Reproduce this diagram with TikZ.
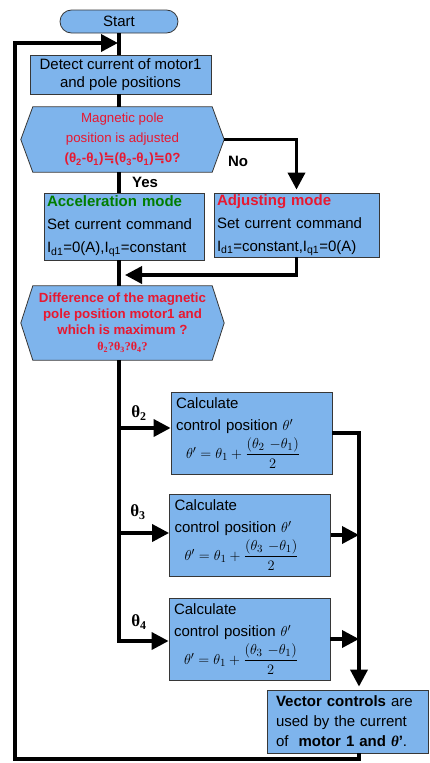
\documentclass[tikz,border=0pt]{standalone}
\usepackage{amsmath}
\usepackage{fontspec}
\setmainfont{Liberation Sans}
\newfontfamily\serifbf{Liberation Serif}
\newfontfamily\symfont{DejaVu Sans}
\usetikzlibrary{arrows.meta,shapes.misc,backgrounds}
\definecolor{boxblue}{RGB}{126,180,236}
\definecolor{boxline}{RGB}{55,55,55}
\definecolor{askred}{RGB}{232,24,48}
\definecolor{modegreen}{RGB}{0,125,0}

\begin{document}
\begin{tikzpicture}[x=1pt,y=1pt,>={Triangle[length=17pt,width=17pt]},line join=miter]

  \tikzstyle{box}=[rectangle,draw=boxline,fill=boxblue,line width=0.8pt,
                   font=\fontsize{15}{18}\selectfont,inner sep=0pt]
  \tikzstyle{start}=[box,rounded rectangle]
  \tikzstyle{ask}=[rectangle,inner sep=0pt,text=askred,align=center,minimum width=179pt]
  \tikzstyle{askshape}=[draw=boxline,fill=boxblue,line width=0.8pt]
  \tikzstyle{leftbox}=[box,align=left,inner xsep=3pt]
  \tikzstyle{calcbox}=[leftbox,inner xsep=5pt,text width=151pt,minimum height=82pt,
                       font=\fontsize{15}{22}\selectfont]
  \tikzstyle{flow}=[line width=3.6pt]
  \tikzstyle{branch}=[font=\serifbf\bfseries\fontsize{17}{17}\selectfont]
  \tikzstyle{answer}=[font=\bfseries\fontsize{15}{15}\selectfont]

  \useasboundingbox (0,0) rectangle (430,-763);

  % main column
  \node [start,minimum width=118pt,minimum height=23pt] (start) at (119,-21.5) {Start};
  \node [box,align=center,minimum width=181pt,minimum height=39pt] (detect) at (120.5,-74.5)
    {Detect current of motor1\\and pole positions};
  \node [ask,minimum height=65pt,font=\fontsize{13.3}{20}\selectfont] (ask1) at (122.5,-139.5)
    {Magnetic pole\\position is adjusted\\
     \textbf{(θ\textsubscript{2}-θ\textsubscript{1}){\symfont\bfseries ≒}(θ\textsubscript{3}-θ\textsubscript{1}){\symfont\bfseries ≒}0?}};
  \node [leftbox,text width=154pt,minimum height=67pt,font=\fontsize{15}{23}\selectfont] (accel) at (124,-226.5)
    {\textcolor{modegreen}{\textbf{Acceleration mode}}\\Set current command\\
     I\textsubscript{d1}=0(A),I\textsubscript{q1}=constant};
  \node [leftbox,text width=159pt,minimum height=64pt,font=\fontsize{15}{23}\selectfont] (adjust) at (296.5,-225)
    {\textcolor{askred}{\textbf{Adjusting mode}}\\Set current command\\
     I\textsubscript{d1}=constant,I\textsubscript{q1}=0(A)};
  \node [ask,minimum height=74pt,font=\bfseries\fontsize{13.3}{16}\selectfont] (ask2) at (122.5,-323)
    {Difference of the magnetic\\pole position motor1 and\\which is maximum ?\\
     {\serifbf\bfseries\fontsize{12}{14}\selectfont θ\textsubscript{2}?θ\textsubscript{3}?θ\textsubscript{4}?}};

  % calculation boxes
  \node [calcbox] (calc1) at (251.5,-433)
    {Calculate\\control position $\theta'$\\[3pt]
     \hspace*{10pt}$\theta' = \theta_1 + \dfrac{(\theta_2\ {-}\theta_1)}{2}$};
  \node [calcbox] (calc2) at (250,-535)
    {Calculate\\control position $\theta'$\\[3pt]
     \hspace*{10pt}$\theta' = \theta_1 + \dfrac{(\theta_3\ {-}\theta_1)}{2}$};
  \node [calcbox] (calc3) at (249.5,-639)
    {Calculate\\control position $\theta'$\\[3pt]
     \hspace*{10pt}$\theta' = \theta_1 + \dfrac{(\theta_3\ {-}\theta_1)}{2}$};
  \node [leftbox,inner xsep=9pt,text width=143pt,minimum height=63pt,font=\fontsize{15}{20}\selectfont] (final) at (347.5,-721.5)
    {\textbf{Vector controls} are\\used by the current\\
     of \ \textbf{motor 1 and {\serifbf\itshape θ}'}.};

  \coordinate (ask1 tip) at ([xshift=12pt]ask1.east);
  \coordinate (top)   at (118,-43);
  \coordinate (merge) at (125,-275);
  \coordinate (j2)    at (119,-428);
  \coordinate (j3)    at (119,-533);
  \coordinate (j4)    at (119,-641);
  \coordinate (col)   at (359,-430);
  \coordinate (bl)    at (15,-759);

  % hexagon outlines of the two questions
  \begin{pgfonlayer}{background}
    \foreach \q in {ask1,ask2}
      \filldraw [askshape] (\q.north west) -- (\q.north east) -- ([xshift=12pt]\q.east)
        -- (\q.south east) -- (\q.south west) -- ([xshift=-12pt]\q.west) -- cycle;
  \end{pgfonlayer}

  % connectors
  \draw [flow] (start.south) -- (start.south |- detect.north);
  \draw [flow] (start.south |- detect.south) -- (start.south |- ask1.north);
  \draw [flow] (start.south |- ask1.south) -- (start.south |- accel.north);
  \draw [flow,->] (ask1 tip) -| ([yshift=3pt]adjust.north);
  \draw [flow] (start.south |- accel.south) -- (start.south |- ask2.north);
  \draw [flow,->] (adjust.south) |- (merge);
  \draw [flow,->] (start.south |- ask2.south) |- (j4 -| calc3.west);
  \draw [flow,->] (j2) -- (j2 -| calc1.west);
  \draw [flow,->] (j3) -- (j3 -| calc2.west);
  \draw [flow,->] (calc1.east) -| ([yshift=3pt]col |- final.north);
  \draw [flow,->] (calc2.east) -- (calc2.east -| col);
  \draw [flow,->] (calc3.east) -- (calc3.east -| col);
  \draw [flow,->] (col |- final.south) |- (bl) |- (top);

  % labels
  \node [answer] (yes) at (145,-182) {Yes};
  \node [answer] (no)  at (238,-161) {No};
  \node [branch] (t2) at (139,-413) {θ\textsubscript{2}};
  \node [branch] (t3) at (138,-512) {θ\textsubscript{3}};
  \node [branch] (t4) at (139,-622) {θ\textsubscript{4}};
\end{tikzpicture}
\end{document}
